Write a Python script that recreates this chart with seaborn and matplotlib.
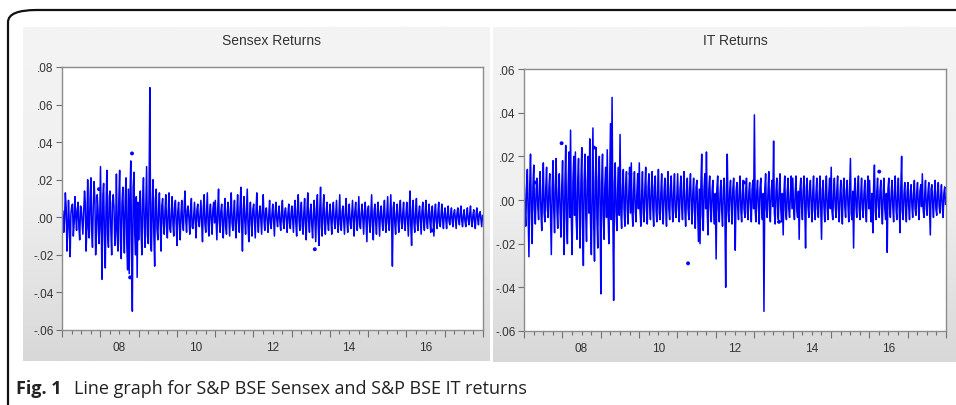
import numpy as np
import pandas as pd
import matplotlib
matplotlib.use("Agg")
import matplotlib.pyplot as plt
import seaborn as sns
from matplotlib.patches import FancyBboxPatch

# weekly-ish returns in thousandths, 48 values per year 2007-2017
sensex_k = [
    4, 3, -8, -2, 13, 5, -18, -6, 9, -4, -21, 2, 6, 7, -10, -3, 11, 1, -7, 4, 8, -5, -12, 6, 5, -2, -9, 3, 14, 8, -18, -4, 20, -6, -11, 10, 21, -7, -16, 5, 19, 9, -20, -8, 12, 4, -14, -6,
    27, -8, -33, 12, 18, -10, -27, 6, 25, -9, -16, 11, 14, -7, -20, 8, 12, 5, -15, -6, 23, -10, -18, 9, 25, -12, -22, 7, 16, -5, -19, 10, 21, -14, -28, 15, -30, 12, 30, -18, -50, 16, 24, -9, -20, 11, -32, 8,
    -12, 6, 14, -7, -20, 9, 21, -5, -16, 8, 27, -10, -14, 12, 69, -15, -18, 7, 20, -9, -26, 10, 15, -6, -12, 5, 13, -4, -18, 6, 10, -3, -9, 4, 12, -5, -11, 3, 13, -6, -8, 2, 11, -4, -10, 5, 9, -3,
    -15, 3, 8, -4, -12, 2, 9, -3, -7, 5, 14, -2, -8, 4, 6, -1, -9, 3, 10, -5, -6, 2, 8, -3, -11, 4, 7, -2, -5, 3, 9, -4, -13, 5, 12, -3, -8, 2, 13, -4, -10, 3, 7, -2, -9, 4, 8, -3,
    9, -3, -12, 4, 15, -2, -8, 3, 7, -4, -11, 2, 10, -5, -9, 3, 8, -2, -10, 4, 13, -3, -7, 2, 9, -4, -11, 3, 12, -2, -8, 5, 16, -3, -18, 4, 11, -2, -9, 3, 15, -4, -13, 2, 8, -3, -10, 4,
    7, -2, -11, 3, 13, -3, -8, 2, 6, -1, -9, 4, 12, -2, -7, 3, 5, -2, -8, 1, 9, -3, -6, 2, 7, -2, -10, 3, 8, -1, -5, 2, 6, -3, -7, 2, 9, -2, -6, 3, 5, -1, -8, 2, 7, -3, -6, 2,
    6, -2, -8, 3, 9, -3, -10, 4, 12, -2, -7, 3, 8, -4, -9, 2, 10, -3, -12, 4, 13, -2, -8, 3, 7, -4, -11, 2, 9, -3, -13, 5, 12, -4, -15, 3, 16, -5, -10, 4, 12, -3, -9, 2, 8, -3, -7, 2,
    7, -2, -9, 3, 8, -2, -6, 2, 9, -3, -8, 2, 12, -4, -7, 3, 6, -2, -9, 3, 10, -2, -8, 2, 7, -3, -6, 2, 9, -2, -10, 3, 8, -2, -7, 3, 11, -4, -6, 2, 7, -2, -9, 3, 8, -3, -13, 4,
    6, -2, -8, 3, 12, -4, -12, 3, 7, -2, -9, 3, 8, -2, -10, 3, 6, -2, -7, 2, 9, -3, -8, 2, 11, -3, -7, 2, 12, -4, -26, 5, 8, -3, -9, 2, 7, -2, -8, 3, 9, -2, -6, 2, 8, -3, -7, 2,
    8, -2, -10, 3, 14, -4, -15, 4, 9, -3, -8, 2, 10, -3, -7, 2, 6, -2, -9, 3, 8, -2, -7, 2, 9, -3, -6, 2, 7, -2, -8, 3, 6, -2, -10, 3, 7, -2, -6, 2, 8, -3, -5, 2, 7, -2, -6, 2,
    5, -1, -6, 2, 6, -2, -4, 1, 5, -2, -5, 2, 4, -1, -6, 2, 5, -1, -4, 2, 6, -2, -5, 1, 4, -2, -5, 1, 5, -1, -4, 2, 6, -2, -5, 1, 4, -2, -6, 2, 5, -1, -4, 2, 3, -1, -5, 1,
]
it_k = [
    9, -4, -12, 5, 14, -6, -26, 7, 21, -5, -20, 6, 16, -4, -11, 5, 10, -3, -9, 6, 13, -5, -14, 4, 17, -6, -10, 5, 15, -4, -8, 6, 12, -7, -25, 5, 18, -4, -15, 6, 19, -5, -13, 4, 12, -6, -17, 5,
    18, -7, -25, 8, 25, -9, -20, 6, 22, -8, 32, -10, -25, 9, 20, -7, 22, -8, -18, 10, 19, -6, -22, 9, 24, -10, -30, 8, 21, -7, -19, 9, 20, -6, 28, -10, -25, 8, 33, -12, -28, 9, 24, -8, -22, 10, 20, -7,
    -43, 8, 21, -7, -18, 6, 15, -8, 23, -6, -20, 7, 35, -9, 47, -10, -46, 8, 17, -6, -14, 5, 15, -7, 30, -6, -13, 5, 14, -4, -12, 6, 13, -5, -11, 4, 15, -6, 17, -5, -12, 4, 13, -5, -10, 3, 12, -4,
    17, -5, -12, 4, 13, -6, -10, 5, 15, -4, -11, 6, 12, -3, -9, 5, 13, -4, -12, 6, 11, -5, -10, 4, 14, -6, -9, 3, 12, -5, -11, 4, 10, -3, -12, 5, 13, -4, -9, 6, 11, -3, -10, 4, 12, -5, -8, 3,
    12, -4, -10, 5, 11, -3, -9, 4, 13, -5, -12, 3, 10, -4, -9, 5, 12, -3, -11, 4, 10, -5, -13, 6, 9, -4, -19, 5, -20, 6, 21, -7, -14, 5, 12, -4, 22, -6, -16, 5, 11, -3, -10, 4, 9, -5, -11, 3,
    -27, 5, 11, -4, -10, 3, 9, -5, -12, 4, 10, -3, -40, 6, 21, -5, -10, 4, 9, -3, -11, 5, 10, -4, -23, 4, 8, -3, -9, 4, 11, -5, -10, 3, 9, -4, -8, 3, 10, -5, -9, 4, 8, -3, -10, 5, 9, -4,
    39, -5, -10, 4, 9, -3, -11, 5, 10, -4, -9, 3, -51, 5, 12, -4, -8, 3, 13, -5, -10, 4, 9, -3, 27, -6, -11, 4, 10, -3, -9, 5, 12, -4, -10, 3, -16, 4, 11, -5, -9, 3, 10, -4, -8, 3, 11, -4,
    10, -4, -9, 3, 11, -5, -8, 4, -18, 5, 10, -3, -9, 4, 11, -4, -22, 6, 10, -3, -8, 4, 9, -3, -10, 4, 11, -5, -9, 3, 10, -4, -8, 3, 11, -5, -18, 5, 9, -3, -10, 4, 11, -4, -9, 3, 10, -4,
    15, -5, -9, 4, 10, -3, -8, 4, 11, -4, -10, 3, 9, -4, -11, 5, 10, -3, -8, 4, 9, -3, -10, 4, 19, -6, -9, 4, -22, 5, 10, -3, -8, 4, 11, -4, -9, 3, 10, -4, -8, 3, 9, -4, -10, 3, 11, -4,
    9, -4, -10, 3, -15, 5, 16, -5, -9, 4, 10, -3, -8, 4, 9, -3, -11, 4, 10, -4, -9, 3, -24, 5, 10, -4, -8, 3, 9, -3, -10, 4, 11, -4, -9, 3, 10, -4, -15, 5, 20, -5, -9, 3, 8, -3, -10, 4,
    8, -3, -9, 4, 7, -3, -8, 3, 9, -4, -7, 3, 8, -3, -9, 4, 7, -3, 12, -4, -8, 3, 9, -4, -7, 3, 8, -3, -16, 5, 7, -3, -8, 3, 9, -4, -7, 3, 8, -3, -6, 2, 7, -3, -8, 3, 6, -2,
]

# isolated observations that EViews draws as dots
sensex_dot_dates = ["2007-12-20", "2008-10-30", "2008-10-12", "2013-08-10", "2016-09-10"]
sensex_dot_k = [15, 34, -32, -17, -7]
it_dot_dates = ["2007-12-25", "2008-10-28", "2007-04-15", "2009-10-10", "2012-09-25",
                "2016-04-05", "2011-04-12", "2013-08-25"]
it_dot_k = [26, 24, 8, 12, 8, 13, -29, -10]

sensex_yticks = [0.08, 0.06, 0.04, 0.02, 0.0, -0.02, -0.04, -0.06]
it_yticks = [0.06, 0.04, 0.02, 0.0, -0.02, -0.04, -0.06]
year_labels = ["08", "10", "12", "14", "16"]
label_years = [2008, 2010, 2012, 2014, 2016]


def decimal_year(d):
    d = pd.DatetimeIndex(d)
    return d.year + (d.dayofyear - 1) / 365.25


def series_frame(values):
    dates = pd.date_range("2007-01-03", "2017-12-28", periods=len(values))
    return pd.DataFrame({"t": decimal_year(dates), "r": np.array(values) / 1000})


W, H = 956, 406
fig = plt.figure(figsize=(W / 100, H / 100), dpi=100)
fig.patch.set_facecolor("white")


def px_rect(x0, y0, x1, y1):
    return [x0 / W, 1 - y1 / H, (x1 - x0) / W, (y1 - y0) / H]


# outer rounded frame (runs off the right and bottom edges)
frame = FancyBboxPatch((8 / W, -0.2), 1.2, 1 - 11 / H + 0.2,
                       boxstyle="round,pad=0,rounding_size=0.03",
                       transform=fig.transFigure, facecolor="none",
                       edgecolor="#111111", linewidth=1.6, zorder=0)
fig.patches.append(frame)

# gradient backgrounds behind each graph
grad = np.linspace(0, 1, 256).reshape(-1, 1)
gray_cmap = matplotlib.colors.LinearSegmentedColormap.from_list(
    "g", ["#f4f4f4", "#f0f0f0", "#d8d8d8"])
for rect in [px_rect(23, 28, 490, 362), px_rect(493, 28, 956, 363)]:
    bg = fig.add_axes(rect, zorder=0)
    bg.imshow(grad, aspect="auto", cmap=gray_cmap, extent=[0, 1, 0, 1])
    bg.axis("off")

panels = [
    (sensex_k, "Sensex Returns", px_rect(62, 68, 483, 331), sensex_yticks,
     sensex_dot_dates, sensex_dot_k, 272),
    (it_k, "IT Returns", px_rect(524, 70, 946, 332), it_yticks,
     it_dot_dates, it_dot_k, 735),
]

tick_font = {"family": "Liberation Sans", "size": 8.5}

for values, title, rect, yticks, dot_dates, dot_k, tx in panels:
    ax = fig.add_axes(rect, zorder=2)
    ax.set_facecolor("white")
    sns.lineplot(data=series_frame(values), x="t", y="r", ax=ax, color="#0000ff",
                 linewidth=1.1, estimator=None)
    sns.scatterplot(x=decimal_year(dot_dates), y=np.array(dot_k) / 1000, ax=ax,
                    color="#0000ff", s=8, edgecolor="none")
    ax.set_xlim(2007, 2018)
    ax.set_ylim(min(yticks), max(yticks))
    ax.set_yticks(yticks)
    ax.set_yticklabels([f"{v:.2f}".replace("0.", ".") for v in yticks], fontdict=tick_font)
    ax.set_xticks(range(2007, 2019))
    ax.set_xticklabels([])
    ax.set_xticks(np.arange(2007, 2018.01, 0.25), minor=True)
    ax.tick_params(axis="x", which="major", length=5, color="#707070", width=0.8)
    ax.tick_params(axis="x", which="minor", length=3, color="#707070", width=0.8)
    ax.tick_params(axis="y", length=4, color="#707070", width=0.8, pad=2,
                   labelcolor="#333333")
    ax.set_xlabel("")
    ax.set_ylabel("")
    for s in ax.spines.values():
        s.set_color("#8c8c8c")
        s.set_linewidth(1.0)

    sec = ax.secondary_xaxis("bottom")
    sec.set_xticks([y + 0.5 for y in label_years])
    sec.set_xticklabels(year_labels, fontdict=tick_font)
    sec.tick_params(length=0, pad=8, labelcolor="#333333")
    sec.spines["bottom"].set_visible(False)

    fig.text(tx / W, 1 - 41 / H, title, ha="center", va="center",
             fontsize=10, color="#333333", family="Liberation Sans")

fig.text(16 / W, 1 - 389 / H, "Fig. 1", ha="left", va="center", fontsize=13,
         fontweight="bold", family="Open Sans", color="#222222")
fig.text(74 / W, 1 - 389 / H, "Line graph for S&P BSE Sensex and S&P BSE IT returns",
         ha="left", va="center", fontsize=13, family="Open Sans", color="#222222")

fig.savefig("out.png", dpi=100, facecolor="white")
